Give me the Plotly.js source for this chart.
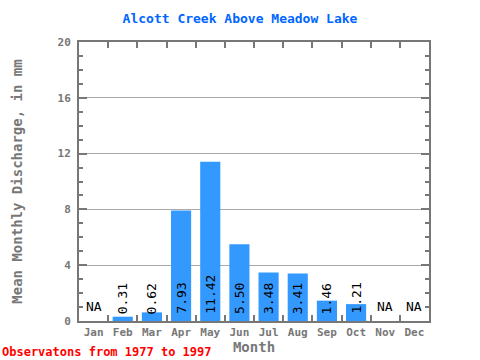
<!DOCTYPE html>
<html>
<head>
<meta charset="utf-8">
<script src="https://cdn.plot.ly/plotly-3.0.1.min.js"></script>
<style>html,body{margin:0;padding:0;background:#fff}#chart{width:480px;height:360px}</style>
</head>
<body>
<div id="chart"></div>
<script>
const months = ["Jan","Feb","Mar","Apr","May","Jun","Jul","Aug","Sep","Oct","Nov","Dec"];
const discharge = [null,0.31,0.62,7.93,11.42,5.50,3.48,3.41,1.46,1.21,null,null];
const labels = ["NA","0.31","0.62","7.93","11.42","5.50","3.48","3.41","1.46","1.21","NA","NA"];
const yTicks = [0,4,8,12,16,20];

const mono = "DejaVu Sans Mono, Liberation Mono, monospace";
const gray = "#777777";

const annotations = months.map((m,i) => {
  const isNA = discharge[i] === null;
  return {
    x: m, y: 0, xref: "x", yref: "y",
    text: labels[i], showarrow: false,
    textangle: isNA ? 0 : -90,
    xanchor: "center", yanchor: "bottom", yshift: 5,
    font: {family: mono, size: 13, color: "#000"}
  };
});
annotations.push({
  xref: "paper", yref: "paper", x: -79/350, y: -31/279,
  xanchor: "left", yanchor: "middle", showarrow: false,
  text: "Observatons from 1977 to 1997",
  font: {family: mono, size: 12, color: "#ff0000", weight: "bold"}
});

const data = [{
  type: "bar", x: months, y: discharge,
  marker: {color: "#3399ff", line: {width: 0}},
  width: 0.69, hoverinfo: "skip"
}];

const layout = {
  width: 480, height: 360,
  margin: {l: 79, r: 51, t: 42, b: 39},
  paper_bgcolor: "#fff", plot_bgcolor: "#fff",
  showlegend: false,
  title: {text: "Alcott Creek Above Meadow Lake", x: 0.5, xanchor: "center", y: 0.95, yanchor: "middle",
          font: {family: mono, size: 13, color: "#0066ff", weight: "bold"}},
  xaxis: {
    type: "category", categoryorder: "array", categoryarray: months,
    range: [-0.5, 11.5], tickson: "boundaries", tickangle: 0,
    ticks: "inside", ticklen: 6, tickwidth: 2, tickcolor: gray,
    showline: true, linecolor: gray, linewidth: 2, mirror: "ticks",
    showgrid: false, zeroline: false,
    tickfont: {family: mono, size: 11, color: gray, weight: "bold"},
    title: {text: "Month", standoff: 2, font: {family: mono, size: 14, color: gray, weight: "bold"}}
  },
  yaxis: {
    range: [0, 20], tickvals: yTicks, ticktext: yTicks.map(String),
    ticks: "inside", ticklen: 8, tickwidth: 2, tickcolor: gray,
    ticklabelstandoff: 4,
    minor: {dtick: 1, tick0: 0, ticks: "inside", ticklen: 4, tickwidth: 2, tickcolor: gray, showgrid: false},
    showline: true, linecolor: gray, linewidth: 2, mirror: "ticks",
    showgrid: true, gridcolor: "#aaaaaa", gridwidth: 1, zeroline: false,
    tickfont: {family: mono, size: 11, color: gray, weight: "bold"},
    title: {text: "Mean Monthly Discharge, in mm", standoff: 32, font: {family: mono, size: 14, color: gray, weight: "bold"}}
  },
  annotations: annotations
};

Plotly.newPlot("chart", data, layout, {staticPlot: true, displayModeBar: false});
</script>
</body>
</html>
